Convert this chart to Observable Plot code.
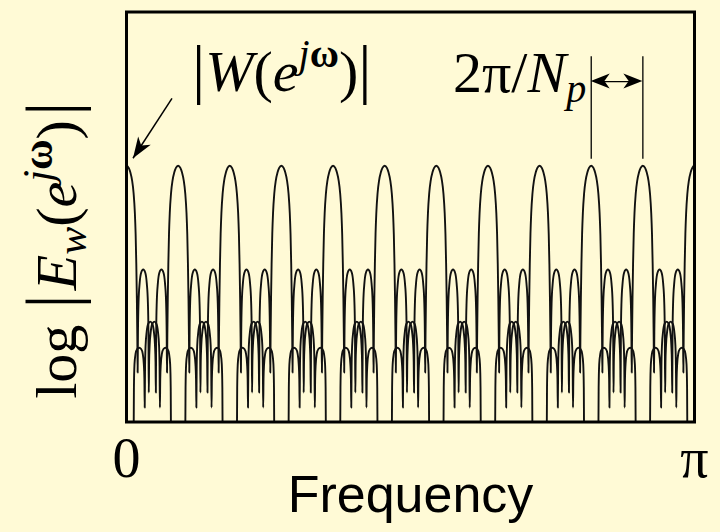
<!DOCTYPE html>
<html><head><meta charset="utf-8">
<script src="https://cdn.jsdelivr.net/npm/d3@7"></script>
<script src="https://cdn.jsdelivr.net/npm/@observablehq/plot@0.6"></script>
<style>
html,body{margin:0;padding:0;background:#fffad6;}
#chart{width:720px;height:532px;}
svg{display:block;}
</style></head><body><div id="chart"></div>
<script>
// ---- data ----
// replicas of the window transform centred on the harmonics k·2π/Np
const pitchPeriod = 22;                 // Np
const harmonicIndex = [0,1,2,3,4,5,6,7,8,9,10,11];
const windowLength = 102;               // N : null spacing 2π/N
// right half of one replica log|W(e^{jω})| : offset in bins (2π/N), level in dB
const lobeOffsetBins = [0, 0.2, 0.35, 0.5, 0.64, 0.75, 0.82, 0.88, 0.93, 0.97, 1.0,
  1.03, 1.08, 1.18, 1.32, 1.5, 1.68, 1.82, 1.92, 1.97, 2.0,
  2.03, 2.08, 2.18, 2.32, 2.5, 2.68, 2.82, 2.92, 2.97, 3.0,
  3.03, 3.08, 3.18, 3.32, 3.5, 3.68, 3.82, 3.92, 3.97, 4.0];
const lobeLevelDb = [0, -0.5, -1.6, -3.4, -6.5, -11, -16, -23, -31, -40, -48.4,
  -39, -32, -27.5, -25, -24.3, -25, -27.5, -32, -39, -53.1,
  -46, -42, -38.8, -37, -36.5, -37, -38.8, -42, -47, -56.6,
  -50, -46.5, -44, -42.9, -42.6, -42.9, -44, -46.5, -52, -66];
const tickValues = [0, Math.PI];
const tickLabels = ["0", "π"];
const markedHarmonics = [9, 10];

// ---- build replicas ----
const w0 = 2 * Math.PI / pitchPeriod;
const bin = 2 * Math.PI / windowLength;
const rows = [];
for (const k of harmonicIndex) {
  const n = lobeOffsetBins.length;
  for (let i = n - 1; i > 0; i--) rows.push({k, w: k * w0 - lobeOffsetBins[i] * bin, db: lobeLevelDb[i]});
  for (let i = 0; i < n; i++) rows.push({k, w: k * w0 + lobeOffsetBins[i] * bin, db: lobeLevelDb[i]});
}

const serif = "'Liberation Serif', 'DejaVu Serif', serif";
const sans = "'Liberation Sans', Arial, sans-serif";

const plot = Plot.plot({
  width: 720, height: 532,
  marginLeft: 126, marginRight: 26, marginTop: 11.5, marginBottom: 110.5,
  style: {background: "transparent", overflow: "visible"},
  x: {domain: [0, Math.PI], axis: null},
  y: {domain: [-60, 36], axis: null},
  marks: [
    Plot.line(rows, {x: "w", y: "db", z: "k", curve: "monotone-x", stroke: "#111", strokeWidth: 1.9, clip: true}),
    Plot.frame({stroke: "#000", strokeWidth: 3}),
    Plot.text(tickValues, {x: d => d, text: (d, i) => tickLabels[i], frameAnchor: "bottom", dy: 55, fontSize: 56, fontFamily: serif, fill: "#000"}),
    Plot.text(["Frequency"], {text: d => d, frameAnchor: "bottom", dy: 90, fontSize: 52, fontFamily: sans, fill: "#000"}),
    Plot.ruleX(markedHarmonics, {x: k => k * w0, y1: 1.5, y2: 25.5, stroke: "#000", strokeWidth: 1.3}),
    Plot.ruleY([19.7], {x1: markedHarmonics[0] * w0, x2: markedHarmonics[1] * w0, stroke: "#000", strokeWidth: 1.3, insetLeft: 10, insetRight: 10})
  ]
});
document.getElementById("chart").appendChild(plot);

// ---- annotations positioned through the plot's scales ----
const sx = plot.scale("x"), sy = plot.scale("y");
const X = v => sx.apply(v), Y = v => sy.apply(v);
const svg = d3.select(plot);
const g = svg.append("g").attr("text-anchor", "start");

function head(tx, ty, ang, len = 19, half = 7.5) {
  const dx = Math.cos(ang), dy = Math.sin(ang);
  const px = -dy, py = dx;
  const bx = tx - len * dx, by = ty - len * dy;
  const nx = tx - 0.72 * len * dx, ny = ty - 0.72 * len * dy;
  g.append("path")
    .attr("d", `M${tx},${ty}L${bx + half * px},${by + half * py}L${nx},${ny}L${bx - half * px},${by - half * py}Z`)
    .attr("fill", "#000");
}

// arrow to the first main lobe
const a0 = [X(0.2544), Y(15.67)], a1 = [X(0.0387), Y(1.64)];
g.append("line").attr("x1", a0[0]).attr("y1", a0[1]).attr("x2", a1[0]).attr("y2", a1[1]).attr("stroke", "#000").attr("stroke-width", 1.5);
head(a1[0], a1[1], Math.atan2(a1[1] - a0[1], a1[0] - a0[0]), 21, 7.5);

// double arrow heads
const hy = Y(19.7);
head(X(markedHarmonics[0] * w0), hy, Math.PI, 19, 7.5);
head(X(markedHarmonics[1] * w0), hy, 0, 19, 7.5);

// |W(e^{jω})|
const t1 = g.append("text").attr("x", X(0.365)).attr("y", Y(17.5)).attr("text-anchor", "start")
  .attr("font-family", serif).attr("font-size", 58).attr("fill", "#000");
t1.append("tspan").attr("font-size", 66).text("|");
t1.append("tspan").attr("font-style", "italic").text("W");
t1.append("tspan").text("(");
t1.append("tspan").attr("font-style", "italic").text("e");
t1.append("tspan").attr("font-size", 40).attr("dy", -24).attr("font-style", "italic").text("j");
t1.append("tspan").attr("font-size", 40).attr("font-weight", "bold").text("ω");
t1.append("tspan").attr("dy", 24).text(")");
t1.append("tspan").attr("font-size", 66).text("|");

// 2π/N_p
const t2 = g.append("text").attr("x", X(2.545)).attr("y", Y(17.1)).attr("text-anchor", "end")
  .attr("font-family", serif).attr("font-size", 58).attr("fill", "#000");
t2.append("tspan").text("2π/");
t2.append("tspan").attr("font-style", "italic").text("N");
t2.append("tspan").attr("font-size", 40).attr("dy", 10).attr("font-style", "italic").text("p");

// y label  log|E_w(e^{jω})|
const t3 = g.append("text").attr("transform", `translate(76,${Y(-19.9)}) rotate(-90)`).attr("text-anchor", "middle")
  .attr("font-family", serif).attr("font-size", 58).attr("fill", "#000");
t3.append("tspan").text("log");
t3.append("tspan").attr("dx", 16).attr("font-size", 72).text("|");
t3.append("tspan").attr("dx", 4).attr("font-style", "italic").text("E");
t3.append("tspan").attr("font-size", 42).attr("dy", 10).attr("font-style", "italic").text("w");
t3.append("tspan").attr("dy", -10).text("(");
t3.append("tspan").attr("font-style", "italic").text("e");
t3.append("tspan").attr("font-size", 42).attr("dy", -24).attr("font-style", "italic").text("j");
t3.append("tspan").attr("font-size", 42).attr("font-weight", "bold").text("ω");
t3.append("tspan").attr("dy", 24).text(")");
t3.append("tspan").attr("dx", 4).attr("font-size", 72).text("|");
</script></body></html>
